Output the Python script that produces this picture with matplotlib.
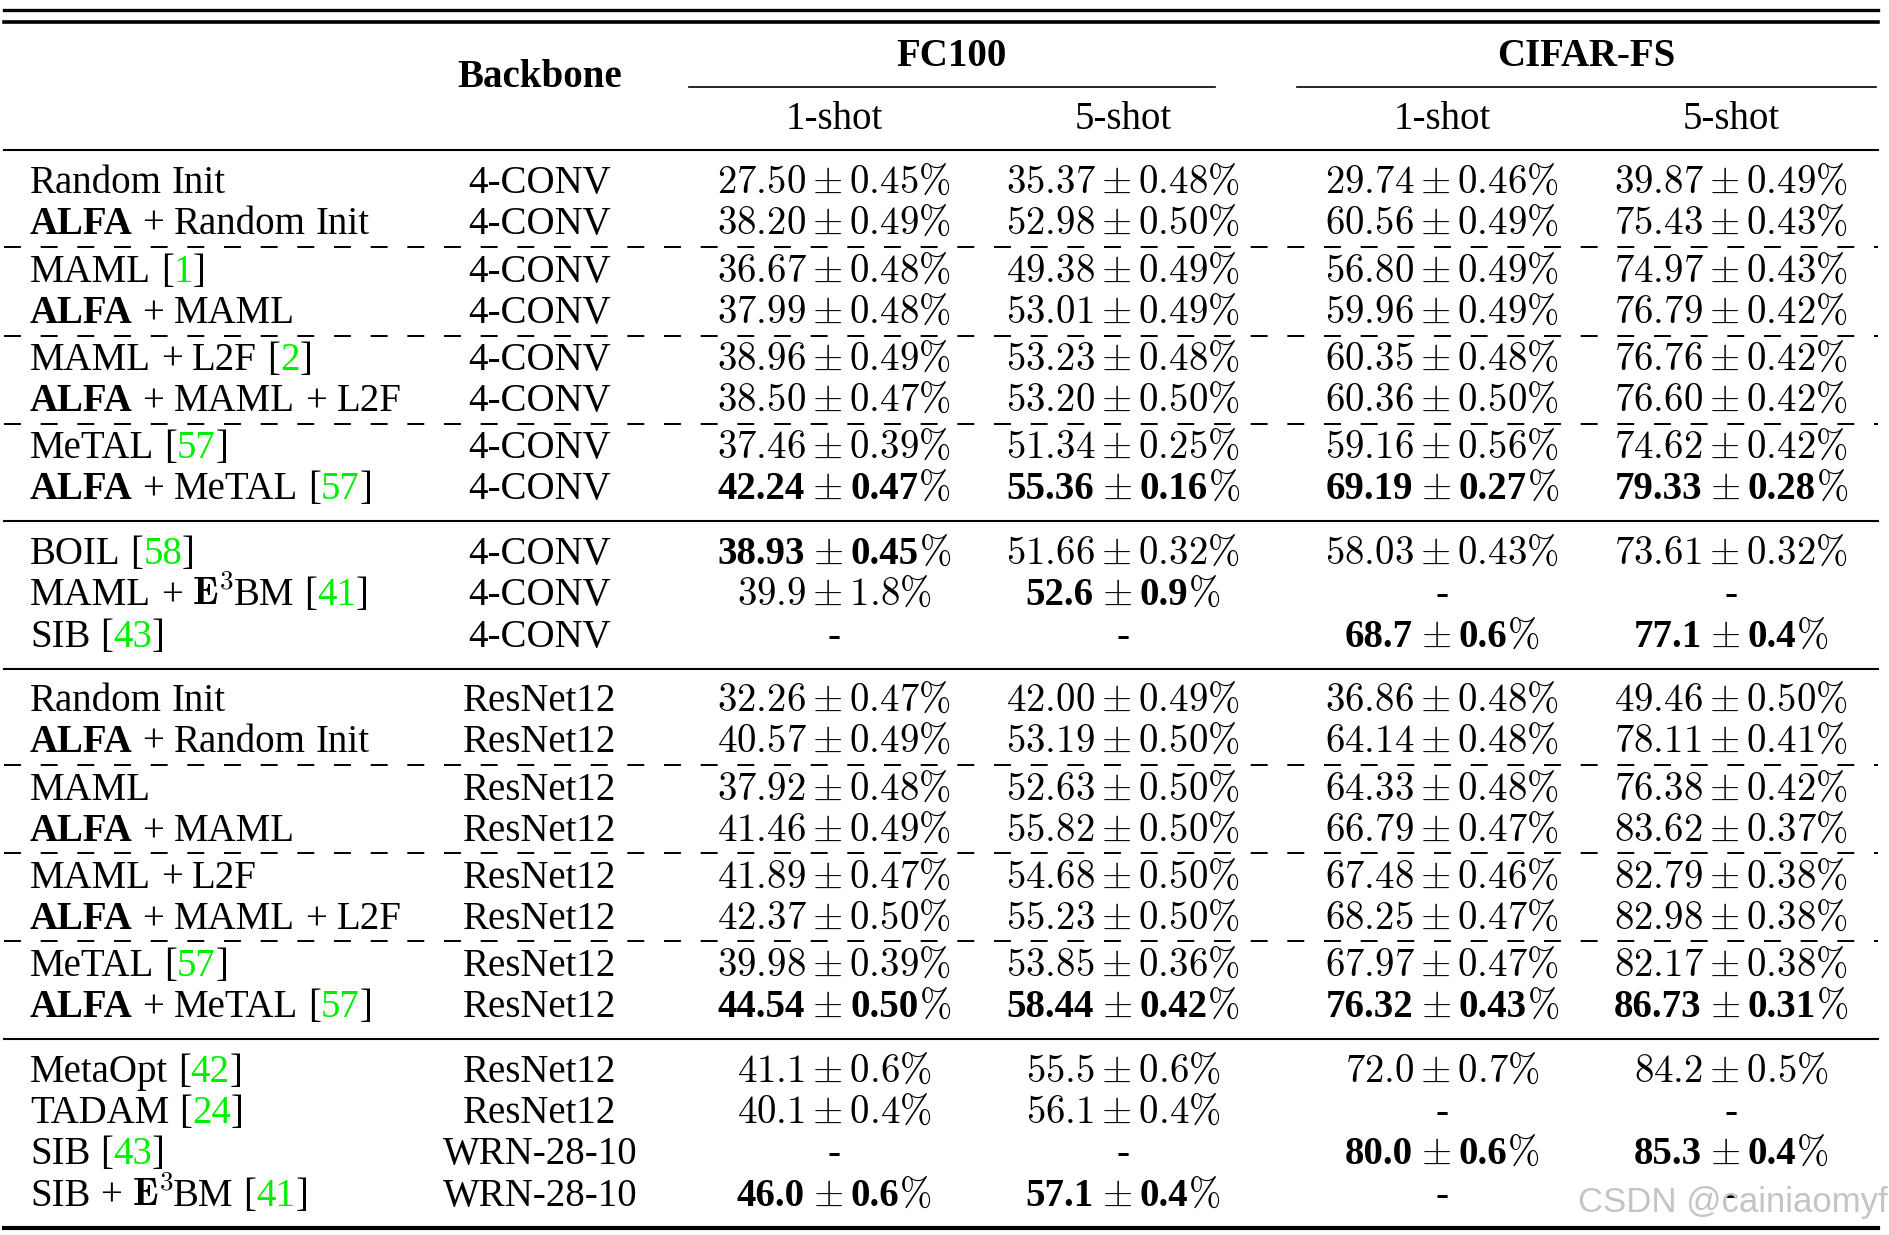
import matplotlib
matplotlib.use('Agg')
import matplotlib.pyplot as plt

plt.rcParams['mathtext.fontset'] = 'cm'
plt.rcParams['lines.scale_dashes'] = False

# ---- table data ----
methods = ['Random Init', 'ALFA + Random Init', 'MAML [1]', 'ALFA + MAML',
           'MAML + L2F [2]', 'ALFA + MAML + L2F', 'MeTAL [57]', 'ALFA + MeTAL [57]',
           'BOIL [58]', 'MAML + E3BM [41]', 'SIB [43]',
           'Random Init', 'ALFA + Random Init', 'MAML', 'ALFA + MAML',
           'MAML + L2F', 'ALFA + MAML + L2F', 'MeTAL [57]', 'ALFA + MeTAL [57]',
           'MetaOpt [42]', 'TADAM [24]', 'SIB [43]', 'SIB + E3BM [41]']
backbones = ['4-CONV'] * 11 + ['ResNet12'] * 10 + ['WRN-28-10'] * 2
# '*' marks a bold (best) entry, '-' a missing one
fc100_1shot = ['27.50±0.45', '38.20±0.49', '36.67±0.48', '37.99±0.48', '38.96±0.49',
               '38.50±0.47', '37.46±0.39', '*42.24±0.47', '*38.93±0.45', '39.9±1.8', '-',
               '32.26±0.47', '40.57±0.49', '37.92±0.48', '41.46±0.49', '41.89±0.47',
               '42.37±0.50', '39.98±0.39', '*44.54±0.50', '41.1±0.6', '40.1±0.4', '-',
               '*46.0±0.6']
fc100_5shot = ['35.37±0.48', '52.98±0.50', '49.38±0.49', '53.01±0.49', '53.23±0.48',
               '53.20±0.50', '51.34±0.25', '*55.36±0.16', '51.66±0.32', '*52.6±0.9', '-',
               '42.00±0.49', '53.19±0.50', '52.63±0.50', '55.82±0.50', '54.68±0.50',
               '55.23±0.50', '53.85±0.36', '*58.44±0.42', '55.5±0.6', '56.1±0.4', '-',
               '*57.1±0.4']
cifar_1shot = ['29.74±0.46', '60.56±0.49', '56.80±0.49', '59.96±0.49', '60.35±0.48',
               '60.36±0.50', '59.16±0.56', '*69.19±0.27', '58.03±0.43', '-', '*68.7±0.6',
               '36.86±0.48', '64.14±0.48', '64.33±0.48', '66.79±0.47', '67.48±0.46',
               '68.25±0.47', '67.97±0.47', '*76.32±0.43', '72.0±0.7', '-', '*80.0±0.6',
               '-']
cifar_5shot = ['39.87±0.49', '75.43±0.43', '74.97±0.43', '76.79±0.42', '76.76±0.42',
               '76.60±0.42', '74.62±0.42', '*79.33±0.28', '73.61±0.32', '-', '*77.1±0.4',
               '49.46±0.50', '78.11±0.41', '76.38±0.42', '83.62±0.37', '82.79±0.38',
               '82.98±0.38', '82.17±0.38', '*86.73±0.31', '84.2±0.5', '-', '*85.3±0.4',
               '-']
datasets = ['FC100', 'CIFAR-FS']
shots = ['1-shot', '5-shot', '1-shot', '5-shot']

# ---- layout (pixels) ----
W, H = 1890, 1235
row_y = [181, 222, 270, 311, 358, 399, 446, 487, 552, 593, 635,
         699, 740, 788, 829, 876, 917, 964, 1005, 1070, 1111, 1152, 1194]
dashed_y = [247, 336, 424, 765, 853, 941]
solid_y = [150, 521, 669, 1039]
col_x = [834, 1123, 1442, 1731]
name_x = 30
bb_x = 540
x0, x1 = 4, 1878
fs = 28
serif = 'Liberation Serif'
green = '#00ee00'

fig = plt.figure(figsize=(W / 100, H / 100), dpi=100)
ax = fig.add_axes([0, 0, 1, 1])
ax.set_xlim(0, W)
ax.set_ylim(H, 0)
ax.axis('off')
renderer = fig.canvas.get_renderer()
inv = ax.transData.inverted()
space = 0.25 * fs * 100 / 72


def draw_parts(x, y, parts, gap=0.0):
    # parts: list of (text, weight, color); returns the text objects and end x
    objs = []
    for txt, wt, c in parts:
        kw = {} if txt.startswith('$') else {'family': serif}
        t = ax.text(x, y, txt, fontsize=fs, weight=wt, color=c, ha='left', va='baseline', **kw)
        bb = t.get_window_extent(renderer)
        x = inv.transform((bb.x1, 0))[0] + gap
        objs.append(t)
    return objs, x


def draw_name(x, y, name):
    for w in name.split(' '):
        if w == 'ALFA':
            parts = [(w, 'bold', 'black')]
        elif w.startswith('['):
            parts = [('[', 'normal', 'black'), (w[1:-1], 'normal', green), (']', 'normal', 'black')]
        elif w == 'E3BM':
            parts = [(r'$\mathbf{E}^{3}$', 'normal', 'black'), ('BM', 'normal', 'black')]
        else:
            parts = [(w, 'normal', 'black')]
        _, x = draw_parts(x, y, parts)
        x += space


def draw_value(cx, y, v):
    if v == '-':
        ax.text(cx, y, '-', fontsize=fs, family=serif, ha='center', va='baseline')
        return
    if not v.startswith('*'):
        m, s = v.split('±')
        ax.text(cx, y, r'$%s \pm %s\%%$' % (m, s), fontsize=fs, ha='center', va='baseline')
        return
    m, s = v.strip('*').split('±')
    parts = [(m, 'bold', 'black'), (r'$\pm$', 'normal', 'black'),
             (s, 'bold', 'black'), (r'$\%$', 'normal', 'black')]
    pad = 0.2 * fs * 100 / 72
    objs, xe = draw_parts(0, y, parts[:1], gap=pad)
    o2, xe = draw_parts(xe, y, parts[1:2], gap=pad)
    o3, xe = draw_parts(xe, y, parts[2:], gap=0)
    objs = objs + o2 + o3
    shift = cx - xe / 2
    for t in objs:
        px, py = t.get_position()
        t.set_position((px + shift, py))


# rules
ax.plot([x0, x1], [9.5, 9.5], color='black', lw=2.4)
ax.plot([x0, x1], [22, 22], color='black', lw=2.6)
ax.plot([x0, x1], [1228, 1228], color='black', lw=3.0)
for y in solid_y:
    ax.plot([x0, x1], [y, y], color='black', lw=1.5)
for y in dashed_y:
    ax.plot([x0, x1], [y, y], color='black', lw=1.4, dashes=(12.2, 14.2),
            dash_capstyle='butt')
ax.plot([689, 1215], [87, 87], color='black', lw=1.2)
ax.plot([1297, 1876], [87, 87], color='black', lw=1.2)

# header
ax.text(bb_x, 87, 'Backbone', fontsize=fs, family=serif, weight='bold', ha='center', va='baseline')
ax.text(952, 66, datasets[0], fontsize=fs, family=serif, weight='bold', ha='center', va='baseline')
ax.text(1586, 66, datasets[1], fontsize=fs, family=serif, weight='bold', ha='center', va='baseline')
for cx, s in zip(col_x, shots):
    ax.text(cx, 129, s, fontsize=fs, family=serif, ha='center', va='baseline')

# body
for i, y in enumerate(row_y):
    yb = y + 12
    draw_name(name_x, yb, methods[i])
    ax.text(bb_x, yb, backbones[i], fontsize=fs, family=serif, ha='center', va='baseline')
    for cx, col in zip(col_x, [fc100_1shot, fc100_5shot, cifar_1shot, cifar_5shot]):
        draw_value(cx, yb, col[i])

# watermark
ax.text(1888, 1212, 'CSDN @cainiaomyf', fontsize=25, family='Liberation Sans',
        color='#c4c4c4', ha='right', va='baseline')

fig.savefig('out.png', dpi=100)
